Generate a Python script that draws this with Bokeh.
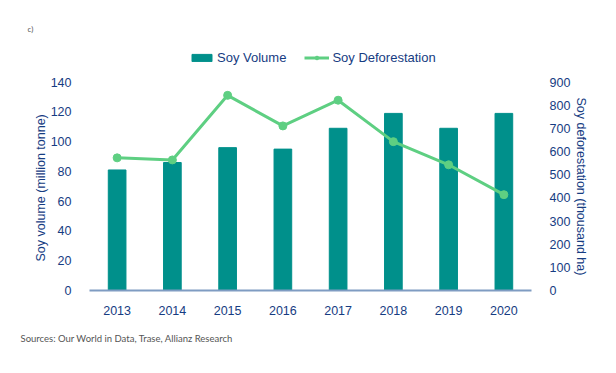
from bokeh.plotting import figure
from bokeh.models import (FactorRange, Range1d, LinearAxis, FixedTicker, Legend,
                          LegendItem, Title, ColumnDataSource)
from bokeh.embed import file_html
from bokeh.resources import INLINE

years = ["2013", "2014", "2015", "2016", "2017", "2018", "2019", "2020"]
soy_volume = [81, 86, 96, 95, 109, 119, 109, 119]
soy_deforestation = [573, 564, 843, 711, 822, 643, 543, 414]
left_ticks = [0, 20, 40, 60, 80, 100, 120, 140]
right_ticks = [0, 100, 200, 300, 400, 500, 600, 700, 800, 900]

BLUE = "#163c82"
TEAL = "#00908b"
GREEN = "#5ecf82"
AXIS_LINE = "#7f9cc2"
GRAY = "#555555"
FONT = "Liberation Sans"

# layout (pixels): the frame reaches above the 140 / 900 tick to host the legend
FRAME_TOP, TICK_TOP, FRAME_BOTTOM = 38, 82, 292
data_px = FRAME_BOTTOM - TICK_TOP
extra_px = TICK_TOP - FRAME_TOP
left_max = left_ticks[-1] + extra_px * left_ticks[-1] / data_px
right_max = right_ticks[-1] + extra_px * right_ticks[-1] / data_px

src = ColumnDataSource(dict(year=years, vol=soy_volume, defo=soy_deforestation))

p = figure(width=600, height=357, x_range=FactorRange(*years, range_padding=0),
           y_range=Range1d(0, left_max), output_backend="svg", toolbar_location=None,
           min_border_left=89, min_border_right=69, min_border_top=FRAME_TOP,
           min_border_bottom=357 - FRAME_BOTTOM)
p.outline_line_color = None
p.grid.grid_line_color = None
p.extra_y_ranges = {"defo": Range1d(0, right_max)}

bars = p.vbar(x="year", top="vol", width=0.32, source=src, fill_color=TEAL,
              line_color=TEAL)
line = p.line(x="year", y="defo", source=src, y_range_name="defo",
              line_color=GREEN, line_width=3)
pts = p.scatter(x="year", y="defo", source=src, y_range_name="defo",
                size=8, fill_color=GREEN, line_color=GREEN)

# left axis
ya = p.yaxis[0]
ya.ticker = FixedTicker(ticks=left_ticks)
ya.axis_line_color = None
ya.major_tick_line_color = None
ya.minor_tick_line_color = None
ya.major_label_standoff = 12
ya.major_label_text_font = FONT
ya.major_label_text_font_size = "12.5px"
ya.major_label_text_color = BLUE

# right axis
ra = LinearAxis(y_range_name="defo", ticker=FixedTicker(ticks=right_ticks))
ra.axis_line_color = None
ra.major_tick_line_color = None
ra.minor_tick_line_color = None
ra.major_label_standoff = 12
ra.major_label_text_font = FONT
ra.major_label_text_font_size = "12.5px"
ra.major_label_text_color = BLUE
p.add_layout(ra, "right")

# x axis
xa = p.xaxis[0]
xa.axis_line_color = AXIS_LINE
xa.axis_line_width = 2
xa.major_tick_line_color = None
xa.minor_tick_line_color = None
xa.major_label_standoff = 9
xa.major_label_text_font = FONT
xa.major_label_text_font_size = "12.5px"
xa.major_label_text_color = BLUE

# axis titles as side titles (placed on the 0-140 / 0-900 part of the frame)
p.add_layout(Title(text="Soy volume (million tonne)", align="left", offset=29,
                   standoff=0, text_font=FONT, text_font_size="12.5px",
                   text_font_style="normal", text_color=BLUE), "left")
p.add_layout(Title(text="Soy deforestation (thousand ha)", align="left", offset=59,
                   standoff=1, text_font=FONT, text_font_size="12.5px",
                   text_font_style="normal", text_color=BLUE), "right")

legend = Legend(items=[LegendItem(label="Soy Volume", renderers=[bars]),
                       LegendItem(label="Soy Deforestation", renderers=[line, pts])],
                orientation="horizontal", location=(100, 225))
legend.label_text_font = FONT
legend.label_text_font_size = "13px"
legend.label_text_color = BLUE
legend.glyph_width = 25
legend.glyph_height = 9
legend.label_standoff = 3
legend.spacing = 18
legend.padding = 0
legend.margin = 0
legend.border_line_color = None
legend.background_fill_alpha = 0
p.add_layout(legend, "center")

p.add_layout(Title(text="c)", align="left", offset=-62, text_font="Lato",
                   text_font_size="8px", text_font_style="normal",
                   text_color=GRAY), "above")

p.add_layout(Title(text="Sources: Our World in Data, Trase, Allianz Research",
                   align="left", offset=-69, standoff=27, text_font="Lato",
                   text_font_size="9.5px", text_font_style="normal",
                   text_color=GRAY), "below")

open("out.html", "w").write(file_html(p, INLINE))
